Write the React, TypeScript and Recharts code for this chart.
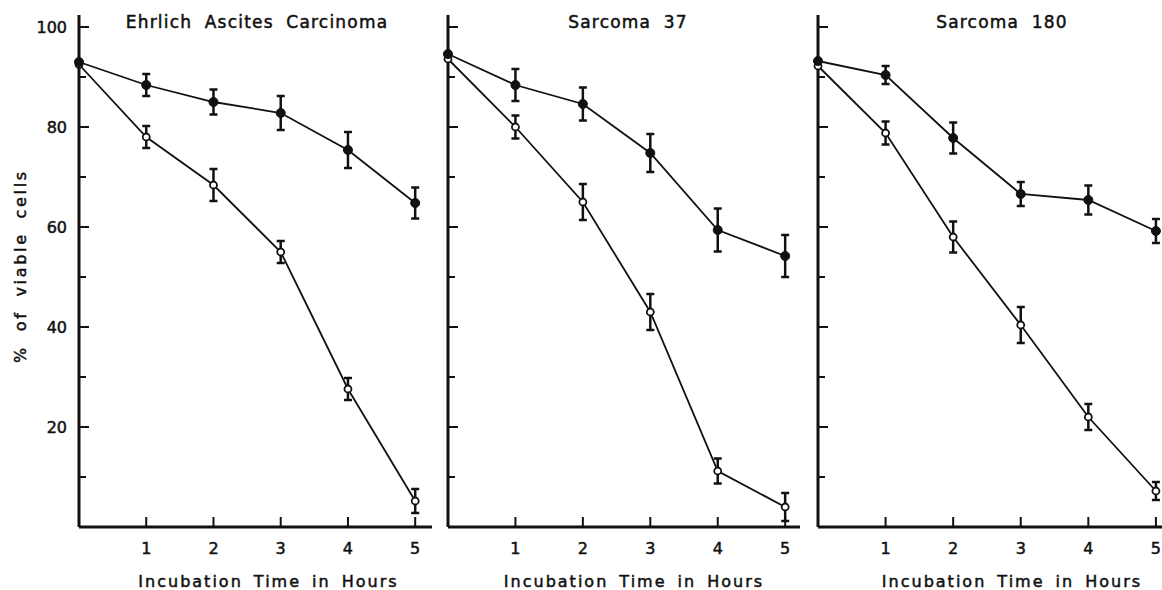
import { ErrorBar, Line, LineChart, XAxis, YAxis } from "recharts";

// Hours of incubation, shared by all three panels.
const HOURS = [0, 1, 2, 3, 4, 5];
const X_TICKS = [1, 2, 3, 4, 5];
const Y_TICKS = [10, 20, 30, 40, 50, 60, 70, 80, 90, 100];

// % of viable cells. "filled" = solid dots, "open" = hollow dots.
const ehrlichFilled = [93, 88.4, 85, 82.8, 75.4, 64.8];
const ehrlichFilledErr = [0, 2.2, 2.5, 3.4, 3.6, 3.1];
const ehrlichOpen = [92.5, 78, 68.4, 55, 27.6, 5.2];
const ehrlichOpenErr = [0, 2.2, 3.2, 2.2, 2.2, 2.4];

const s37Filled = [94.6, 88.4, 84.6, 74.8, 59.4, 54.2];
const s37FilledErr = [0, 3.2, 3.3, 3.8, 4.3, 4.2];
const s37Open = [93.6, 80, 65, 43, 11.2, 4];
const s37OpenErr = [0, 2.3, 3.6, 3.6, 2.5, 2.8];

const s180Filled = [93.2, 90.4, 77.8, 66.6, 65.4, 59.2];
const s180FilledErr = [0, 1.8, 3.1, 2.4, 2.9, 2.4];
const s180Open = [92.2, 78.8, 58, 40.4, 22, 7.2];
const s180OpenErr = [0, 2.3, 3.1, 3.6, 2.6, 1.8];

const X_TITLE = "Incubation Time in Hours";
const Y_TITLE = "% of viable cells";

const INK = "#111";
const FONT = '"DejaVu Sans", Verdana, sans-serif';
const HEIGHT = 590;
const MARGIN_LEFT = 39;
const Y_AXIS_W = 40;
// The lettering in the original is heavier than DejaVu's regular weight.
const TEXT_STROKE = 0.5;

interface Row {
  h: number;
  filled: number;
  filledErr: number;
  open: number;
  openErr: number;
}

function buildRows(filled: number[], filledErr: number[], open: number[], openErr: number[]): Row[] {
  return HOURS.map((h, i) => ({
    h,
    filled: filled[i],
    filledErr: filledErr[i],
    open: open[i],
    openErr: openErr[i],
  }));
}

/* eslint-disable @typescript-eslint/no-explicit-any */
// Ticks point inward, so both axes draw their own tick marks.
function YTick(props: any) {
  const { x, y, payload, showLabels } = props;
  const v = Number(payload.value);
  const major = v % 20 === 0;
  return (
    <g>
      <line x1={x} x2={x + (major ? 10 : 7)} y1={y} y2={y} stroke={INK} strokeWidth={2} />
      {showLabels && major && (
        <text
          x={x - 12}
          y={y}
          dy="0.36em"
          textAnchor="end"
          fontSize={16}
          fill={INK}
          stroke={INK}
          strokeWidth={TEXT_STROKE}
          fontFamily={FONT}
        >
          {v}
        </text>
      )}
    </g>
  );
}

function XTick(props: any) {
  const { x, y, payload } = props;
  return (
    <g>
      <line x1={x} x2={x} y1={y} y2={y - 10} stroke={INK} strokeWidth={2} />
      <text
        x={x}
        y={y + 21}
        dy="0.36em"
        textAnchor="middle"
        fontSize={16}
        fill={INK}
        stroke={INK}
        strokeWidth={TEXT_STROKE}
        fontFamily={FONT}
      >
        {payload.value}
      </text>
    </g>
  );
}

function XTitle(props: any) {
  const { viewBox, dx } = props;
  if (!viewBox) return null;
  return (
    <text
      x={viewBox.x + viewBox.width / 2 + dx}
      y={viewBox.y + 54}
      dy="0.36em"
      textAnchor="middle"
      fontSize={16}
      letterSpacing={2}
      wordSpacing={4}
      fill={INK}
      stroke={INK}
      strokeWidth={TEXT_STROKE}
      fontFamily={FONT}
    >
      {X_TITLE}
    </text>
  );
}

function YTitle(props: any) {
  const { viewBox } = props;
  if (!viewBox) return null;
  const cx = viewBox.x - 19;
  const cy = viewBox.y + viewBox.height / 2 - 5;
  return (
    <text
      x={cx}
      y={cy}
      dy="0.36em"
      textAnchor="middle"
      transform={`rotate(-90 ${cx} ${cy})`}
      fontSize={16}
      letterSpacing={2.7}
      wordSpacing={6}
      fill={INK}
      stroke={INK}
      strokeWidth={TEXT_STROKE}
      fontFamily={FONT}
    >
      {Y_TITLE}
    </text>
  );
}

function Panel({
  rows,
  left,
  width,
  xMax,
  marginRight,
  title,
  titleX,
  titleDx,
  showYLabels,
}: {
  rows: Row[];
  left: number;
  width: number;
  xMax: number;
  marginRight: number;
  title: string;
  titleX: number;
  titleDx: number;
  showYLabels: boolean;
}) {
  return (
    <>
      <div
        style={{
          position: "absolute",
          left: titleX - 200,
          top: 12,
          width: 400,
          textAlign: "center",
          fontFamily: FONT,
          fontSize: 17,
          lineHeight: "20px",
          letterSpacing: 1.2,
          wordSpacing: 6,
          color: INK,
          WebkitTextStroke: `${TEXT_STROKE}px ${INK}`,
        }}
      >
        {title}
      </div>
      <div style={{ position: "absolute", left, top: 0 }}>
        <LineChart
          width={width}
          height={HEIGHT}
          data={rows}
          margin={{ top: 15, right: marginRight, left: MARGIN_LEFT, bottom: 0 }}
        >
          <XAxis
            dataKey="h"
            type="number"
            domain={[0, xMax]}
            ticks={X_TICKS}
            interval={0}
            height={63}
            tickSize={0}
            tickMargin={0}
            tickLine={false}
            axisLine={{ stroke: INK, strokeWidth: 3 }}
            tick={(p: any) => <XTick {...p} />}
            label={{ content: (p: any) => <XTitle {...p} dx={titleDx} /> }}
          />
          <YAxis
            type="number"
            domain={[0, 102.4]}
            ticks={Y_TICKS}
            interval={0}
            width={Y_AXIS_W}
            tickSize={0}
            tickMargin={0}
            tickLine={false}
            axisLine={{ stroke: INK, strokeWidth: 3 }}
            tick={(p: any) => <YTick {...p} showLabels={showYLabels} />}
            label={showYLabels ? { content: (p: any) => <YTitle {...p} /> } : undefined}
          />
          <Line
            dataKey="open"
            stroke={INK}
            strokeWidth={1.8}
            isAnimationActive={false}
            activeDot={false}
            dot={{ r: 3.5, fill: "#fff", stroke: INK, strokeWidth: 1.8 }}
          >
            <ErrorBar dataKey="openErr" direction="y" width={4} strokeWidth={2.5} stroke={INK} isAnimationActive={false} />
          </Line>
          <Line
            dataKey="filled"
            stroke={INK}
            strokeWidth={1.8}
            isAnimationActive={false}
            activeDot={false}
            dot={{ r: 4.5, fill: INK, stroke: INK, strokeWidth: 1 }}
          >
            <ErrorBar dataKey="filledErr" direction="y" width={4} strokeWidth={2.5} stroke={INK} isAnimationActive={false} />
          </Line>
        </LineChart>
      </div>
    </>
  );
}

export default function App() {
  return (
    <div style={{ position: "absolute", left: 0, top: 0, width: 1162, height: HEIGHT, background: "#fff", overflow: "hidden" }}>
      <Panel
        rows={buildRows(ehrlichFilled, ehrlichFilledErr, ehrlichOpen, ehrlichOpenErr)}
        left={0}
        width={440}
        xMax={5.25}
        marginRight={8}
        title="Ehrlich Ascites Carcinoma"
        titleX={257}
        titleDx={13}
        showYLabels
      />
      <Panel
        rows={buildRows(s37Filled, s37FilledErr, s37Open, s37OpenErr)}
        left={369}
        width={439}
        xMax={5.22}
        marginRight={8}
        title="Sarcoma 37"
        titleX={628}
        titleDx={10}
        showYLabels={false}
      />
      <Panel
        rows={buildRows(s180Filled, s180FilledErr, s180Open, s180OpenErr)}
        left={739}
        width={423}
        xMax={5.09}
        marginRight={0}
        title="Sarcoma 180"
        titleX={1002}
        titleDx={22}
        showYLabels={false}
      />
    </div>
  );
}
